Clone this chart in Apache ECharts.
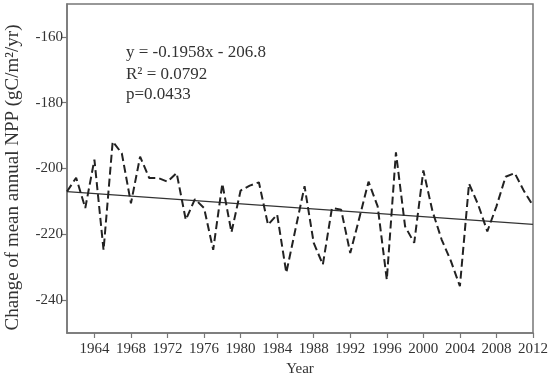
<!DOCTYPE html>
<html>
<head>
<meta charset="utf-8">
<script src="https://cdn.jsdelivr.net/npm/echarts@6/dist/echarts.min.js"></script>
<style>html,body{margin:0;padding:0;background:#fff;}#c{width:550px;height:380px;}</style>
</head>
<body>
<div id="c"></div>
<script>
var years = [1961,1962,1963,1964,1965,1966,1967,1968,1969,1970,1971,1972,1973,1974,1975,1976,1977,1978,1979,1980,1981,1982,1983,1984,1985,1986,1987,1988,1989,1990,1991,1992,1993,1994,1995,1996,1997,1998,1999,2000,2001,2002,2003,2004,2005,2006,2007,2008,2009,2010,2011,2012];
var npp = [-207.0,-202.8,-212.0,-197.3,-224.8,-191.8,-195.4,-210.6,-196.4,-202.9,-202.9,-204.0,-201.4,-215.6,-209.3,-212.0,-224.7,-204.6,-219.4,-206.7,-205.2,-204.2,-217.1,-214.0,-231.7,-218.5,-205.4,-222.6,-229.2,-212.0,-212.5,-225.7,-215.0,-204.0,-211.5,-233.8,-195.1,-217.6,-222.6,-200.6,-213.0,-221.6,-228.0,-235.8,-204.6,-211.0,-219.1,-211.5,-202.5,-201.4,-206.8,-211.3];
var trendYears = [1961, 2012];
var trendValues = [-207.0, -217.0];
var xTicks = [1964,1968,1972,1976,1980,1984,1988,1992,1996,2000,2004,2008,2012];
var yTicks = [-240,-220,-200,-180,-160];
var annotation = ['y = -0.1958x - 206.8', 'R\u00b2 = 0.0792', 'p=0.0433'];

var FONT = 'Liberation Serif';
var chart = echarts.init(document.getElementById('c'));
chart.setOption({
  animation: false,
  backgroundColor: '#fff',
  grid: {left: 67, right: 17, top: 4, bottom: 47, containLabel: false, outerBoundsMode: 'none',
         show: true, borderColor: '#777', borderWidth: 1.5, backgroundColor: 'transparent'},
  xAxis: {
    type: 'value', min: 1961, max: 2012,
    name: 'Year', nameLocation: 'middle', nameGap: 29,
    nameTextStyle: {fontFamily: FONT, fontSize: 15, color: '#333'},
    axisLine: {show: true, lineStyle: {color: '#777', width: 1.5}},
    axisTick: {show: true, length: 5, inside: false, customValues: xTicks, lineStyle: {color: '#777', width: 1.2}},
    axisLabel: {customValues: xTicks, formatter: function(v){ return String(v); }, fontFamily: FONT, fontSize: 15, color: '#333', margin: 9},
    splitLine: {show: false}
  },
  yAxis: {
    type: 'value', min: -250, max: -150,
    name: 'Change of mean annual NPP (gC/m\u00b2/yr)', nameLocation: 'middle', nameGap: 44, nameRotate: 90,
    nameTextStyle: {fontFamily: FONT, fontSize: 19, color: '#333', padding: [0, 18, 0, 0]},
    axisLine: {show: true, lineStyle: {color: '#777', width: 1.5}},
    axisTick: {show: true, length: 5, inside: false, customValues: yTicks, lineStyle: {color: '#777', width: 1.2}},
    axisLabel: {customValues: yTicks, fontFamily: FONT, fontSize: 15, color: '#333', margin: 4},
    splitLine: {show: false}
  },
  graphic: [
    {type: 'text', left: 126, top: 44, style: {text: annotation[0], font: '17px "Liberation Serif"', fill: '#333'}},
    {type: 'text', left: 126, top: 66, style: {text: annotation[1], font: '17px "Liberation Serif"', fill: '#333'}},
    {type: 'text', left: 126, top: 86, style: {text: annotation[2], font: '17px "Liberation Serif"', fill: '#333'}}
  ],
  series: [
    {type: 'line', data: years.map(function(y, i){ return [y, npp[i]]; }), showSymbol: false, symbol: 'none',
     lineStyle: {color: '#222', width: 2, type: [8, 4]}, z: 3},
    {type: 'line', data: trendYears.map(function(y, i){ return [y, trendValues[i]]; }), showSymbol: false, symbol: 'none',
     lineStyle: {color: '#333', width: 1.2, type: 'solid'}, z: 2}
  ]
});
</script>
</body>
</html>
